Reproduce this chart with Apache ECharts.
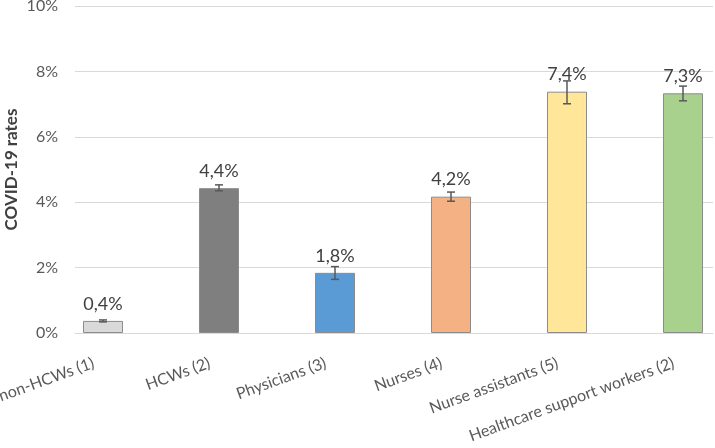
<!DOCTYPE html>
<html>
<head>
<meta charset="utf-8">
<script src="https://cdn.jsdelivr.net/npm/echarts@6/dist/echarts.min.js"></script>
<style>html,body{margin:0;padding:0;background:#fff;}#c{width:715px;height:448px;}</style>
</head>
<body>
<div id="c"></div>
<script>
var categories = ['non-HCWs (1)', 'HCWs (2)', 'Physicians (3)', 'Nurses (4)', 'Nurse assistants (5)', 'Healthcare support workers (2)'];
var rates = [0.37, 4.43, 1.84, 4.17, 7.38, 7.33];
var errLow = [0.34, 4.35, 1.64, 4.03, 7.01, 7.10];
var errHigh = [0.40, 4.53, 2.03, 4.31, 7.71, 7.55];
var barColors = ['#d9d9d9', '#7f7f7f', '#5b9bd5', '#f4b183', '#ffe699', '#a9d18e'];
var yTicks = [0, 2, 4, 6, 8, 10];

var font = 'Lato, "Open Sans", sans-serif';
var chart = echarts.init(document.getElementById('c'));
chart.setOption({
  animation: false,
  grid: [
    {left: 75, right: 2, top: 6, bottom: 115, outerBoundsMode: 'none', containLabel: false},
    {left: 45, width: 696, top: 6, bottom: 115, outerBoundsMode: 'none', containLabel: false}
  ],
  xAxis: [
    {gridIndex: 0, type: 'category', data: categories, show: true,
     axisLine: {show: true, lineStyle: {color: '#d9d9d9'}}, axisTick: {show: false}, axisLabel: {show: false}},
    {gridIndex: 1, type: 'category', data: categories,
     axisLine: {show: false}, axisTick: {show: false},
     axisLabel: {rotate: 20, margin: 26, padding: [0, 10, 0, 0], fontSize: 16, color: '#595959', fontFamily: font, interval: 0}}
  ],
  yAxis: [
    {gridIndex: 0, type: 'value', min: 0, max: 10, interval: 2,
     name: 'COVID-19 rates', nameLocation: 'middle', nameGap: 55, nameMoveOverlap: false,
     nameTextStyle: {fontSize: 17, fontWeight: 'bold', color: '#404040', fontFamily: font},
     axisLine: {show: false}, axisTick: {show: false},
     axisLabel: {formatter: function (v) { return yTicks.indexOf(v) >= 0 ? v + '%' : ''; }, fontSize: 16, color: '#595959', fontFamily: font, margin: 17},
     splitLine: {lineStyle: {color: '#d9d9d9', width: 1}}},
    {gridIndex: 1, type: 'value', min: 0, max: 10, interval: 2, show: false, splitLine: {show: false}}
  ],
  series: [
    {type: 'bar', xAxisIndex: 1, yAxisIndex: 1, barWidth: 40,
     data: rates.map(function (v, i) {
       return {value: v, itemStyle: {color: barColors[i], borderColor: '#8c8c8c', borderWidth: 1}};
     }),
     label: {show: true, position: 'top', distance: 8, fontSize: 18, color: '#404040', fontFamily: font,
       formatter: function (p) { return p.value.toFixed(1).replace('.', ',') + '%'; }}
    },
    {type: 'custom', xAxisIndex: 1, yAxisIndex: 1, z: 5,
     data: categories.map(function (c, i) { return [i, errLow[i], errHigh[i]]; }),
     renderItem: function (params, api) {
       var lo = api.coord([api.value(0), api.value(1)]);
       var hi = api.coord([api.value(0), api.value(2)]);
       var w = 4;
       var st = {stroke: '#595959', lineWidth: 1.5};
       return {type: 'group', children: [
         {type: 'line', shape: {x1: lo[0], y1: lo[1], x2: hi[0], y2: hi[1]}, style: st},
         {type: 'line', shape: {x1: lo[0] - w, y1: lo[1], x2: lo[0] + w, y2: lo[1]}, style: st},
         {type: 'line', shape: {x1: hi[0] - w, y1: hi[1], x2: hi[0] + w, y2: hi[1]}, style: st}
       ]};
     }
    }
  ]
});
</script>
</body>
</html>
